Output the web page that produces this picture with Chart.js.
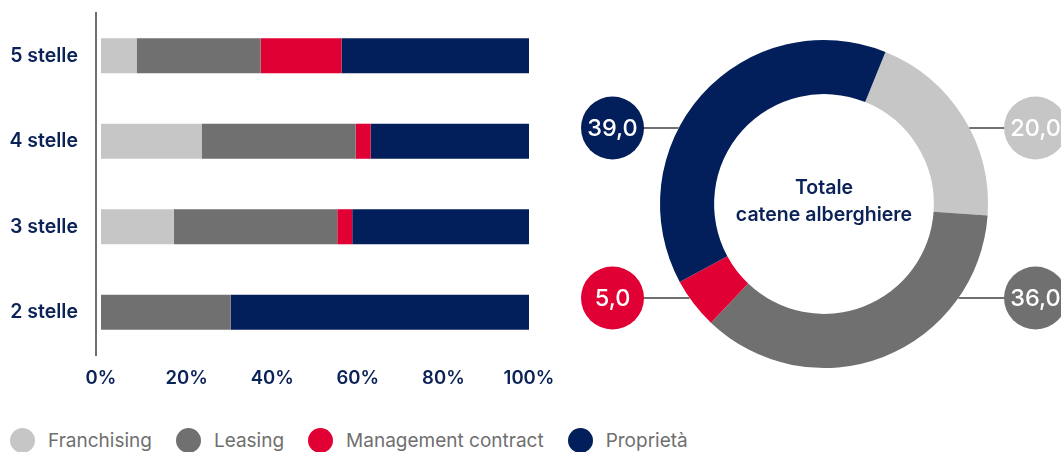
<!DOCTYPE html>
<html><head><meta charset="utf-8">
<script src="https://cdn.jsdelivr.net/npm/chart.js@4.4.1/dist/chart.umd.min.js"></script>
<style>
html,body{margin:0;padding:0;background:#fff;width:1061px;height:452px;overflow:hidden;font-family:Inter,"Noto Sans",sans-serif;}
#barWrap{position:absolute;left:0;top:0;width:570px;height:400px;}
#pieWrap{position:absolute;left:570px;top:0;width:491px;height:408px;}
#legend{position:absolute;left:10px;top:428px;height:24px;display:flex;align-items:center;font-size:19px;color:#6f6f6f;font-weight:400;}
#legend .it{display:flex;align-items:center;margin-right:24px;}
#legend .dot{width:25px;height:25px;border-radius:50%;margin-right:13px;}
</style></head><body>
<div id="barWrap"><canvas id="bar" width="570" height="400"></canvas></div>
<div id="pieWrap"><canvas id="pie" width="491" height="408"></canvas></div>
<div id="legend"></div>
<script>
const categories = ['5 stelle','4 stelle','3 stelle','2 stelle'];
const seriesNames = ['Franchising','Leasing','Management contract','Proprietà'];
const franchising = [8.3, 23.5, 17.0, 0];
const leasing = [29.0, 36.0, 38.2, 30.3];
const management = [18.9, 3.5, 3.5, 0];
const proprieta = [43.8, 37.0, 41.3, 69.7];
const xTicks = [0, 20, 40, 60, 80, 100];
const totalLabels = ['Franchising','Leasing','Management contract','Proprietà'];
const totalValues = [20.0, 36.0, 5.0, 39.0];
const centerText = ['Totale','catene alberghiere'];
const colors = ['#c6c6c6','#707070','#e00034','#021f5b'];
const navy = '#0a2257';
const fontFam = 'Inter, "Noto Sans", sans-serif';

// legend
const lg = document.getElementById('legend');
seriesNames.forEach((n,i)=>{
  const d=document.createElement('div');d.className='it';
  d.innerHTML='<span class="dot" style="background:'+colors[i]+'"></span><span>'+n+'</span>';
  lg.appendChild(d);
});

const seriesData=[franchising,leasing,management,proprieta];
new Chart(document.getElementById('bar'),{
  type:'bar',
  data:{labels:categories,datasets:seriesNames.map((n,i)=>({label:n,data:seriesData[i],backgroundColor:colors[i],borderWidth:0,barPercentage:0.41,categoryPercentage:1}))},
  options:{
    indexAxis:'y',responsive:false,animation:false,
    layout:{padding:{top:13,right:41,bottom:0,left:0}},
    plugins:{legend:{display:false},tooltip:{enabled:false}},
    scales:{
      x:{stacked:true,min:-1.17,max:100,
        grid:{display:false,drawTicks:false},border:{display:false},
        afterBuildTicks:(s)=>{s.ticks=xTicks.map(v=>({value:v}));},
        afterFit:(s)=>{s.height=45;s.paddingLeft=0;s.paddingRight=0;},
        ticks:{padding:12,color:navy,font:{family:fontFam,size:18.5,weight:'600'},callback:(v)=>v+'%',maxRotation:0}},
      y:{stacked:true,
        grid:{display:false,drawTicks:false},border:{display:true,color:'#707070',width:2},
        afterFit:(s)=>{s.width=96;s.paddingTop=0;s.paddingBottom=0;},
        ticks:{padding:18,color:navy,font:{family:fontFam,size:19.5,weight:'600'}}}
    }
  }
});

const labelAnchors=[{side:1,dy:-76},{side:1,dy:94},{side:-1,dy:94},{side:-1,dy:-76}];
const piePlugin={
  id:'pieLabels',
  afterDatasetsDraw(chart){
    const ctx=chart.ctx;const meta=chart.getDatasetMeta(0);
    const arc=meta.data[0];const cx=arc.x, cy=arc.y, R=arc.outerRadius;
    ctx.save();
    ctx.fillStyle=navy;ctx.textAlign='center';ctx.textBaseline='middle';
    ctx.font='600 19.5px '+fontFam;
    ctx.fillText(centerText[0],cx,cy-16);
    ctx.fillText(centerText[1],cx,cy+11);
    meta.data.forEach((a,i)=>{
      const an=labelAnchors[i];
      const ly=cy+an.dy;const lx=cx+an.side*211.5;
      const ex=cx+an.side*Math.sqrt(Math.max(R*R-an.dy*an.dy,0));
      ctx.strokeStyle='#707070';ctx.lineWidth=2;
      ctx.beginPath();ctx.moveTo(lx,ly);ctx.lineTo(ex,ly);ctx.stroke();
      ctx.fillStyle=colors[i];
      ctx.beginPath();ctx.arc(lx,ly,31.5,0,Math.PI*2);ctx.fill();
      ctx.fillStyle='#ffffff';ctx.font='500 23.5px '+fontFam;
      ctx.fillText(totalValues[i].toFixed(1).replace('.',','),lx,ly+1);
    });
    ctx.restore();
  }
};
new Chart(document.getElementById('pie'),{
  type:'doughnut',
  data:{labels:totalLabels,datasets:[{data:totalValues,backgroundColor:colors,borderWidth:0}]},
  options:{responsive:false,animation:false,rotation:22,cutout:'67%',
    layout:{padding:{left:90,right:73,top:40,bottom:40}},
    plugins:{legend:{display:false},tooltip:{enabled:false}}},
  plugins:[piePlugin]
});
</script>
</body></html>
